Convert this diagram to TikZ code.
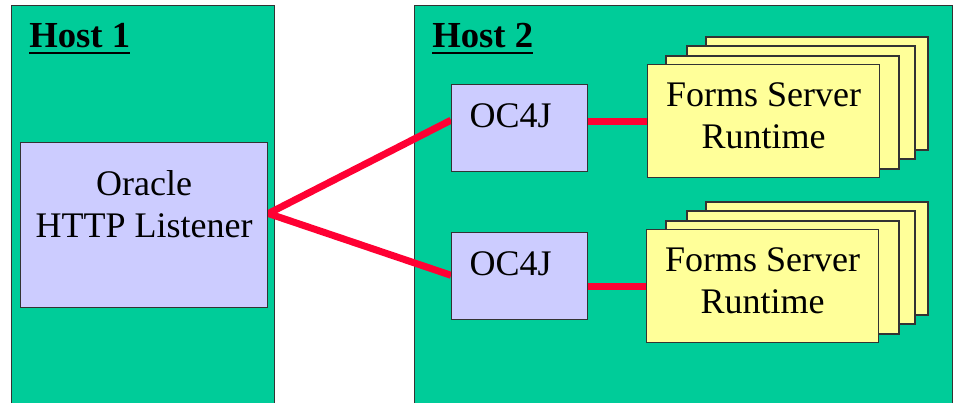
\documentclass[tikz,border=0pt]{standalone}
\usepackage{fontspec}
\setmainfont{Liberation Serif}
\usetikzlibrary{calc,backgrounds}

\definecolor{hostgreen}{HTML}{00CC99}
\definecolor{lilacfill}{HTML}{CCCCFF}
\definecolor{formsyellow}{HTML}{FFFF99}
\definecolor{linkred}{HTML}{FF0033}
\definecolor{edgegray}{HTML}{333333}

\newcommand{\ulhost}[1]{\setbox0\hbox{#1}\rlap{\rule[-4.5pt]{\wd0}{1.5pt}}\box0}

\begin{document}
\begin{tikzpicture}[x=0.75pt, y=-0.75pt, font=\fontsize{27}{31.5}\selectfont,
	host/.style={draw=edgegray, line width=1pt, fill=hostgreen, anchor=north west, inner sep=0pt},
	hosttitle/.style={anchor=base west, inner sep=0pt, font=\fontsize{27.5}{31}\selectfont\bfseries},
	lilac/.style={draw=edgegray, line width=1pt, fill=lilacfill, anchor=north west, inner sep=0pt},
	oc4j/.style={lilac, text width=75pt, inner xsep=13.5pt, align=left, text height=32.25pt, text depth=33pt},
	sheet/.style={draw=edgegray, line width=1pt, fill=formsyellow},
	forms/.style={sheet, anchor=north west, inner sep=0pt, align=center, minimum width=174pt, text height=63pt, text depth=21.75pt},
	link/.style={draw=linkred, line width=5.25pt}]
	\useasboundingbox (0,0) rectangle (954,403);

	\begin{scope}[on background layer]
	\node[host, minimum width=197.25pt, minimum height=310pt] (host1) at (11,5) {};
	\node[host, minimum width=403.5pt, minimum height=310pt] (host2) at (414,5) {};
	\end{scope}
	\node[hosttitle] (host1title) at (29,48) {\ulhost{Host 1}};
	\node[hosttitle] (host2title) at (432,48) {\ulhost{Host 2}};

	\node[lilac, align=center, minimum width=185.25pt, text height=71.25pt, text depth=52.5pt] (listener) at (20,142) {Oracle\\HTTP Listener};

	\node[oc4j] (oc4jA) at (451,84) {OC4J};
	\node[oc4j] (oc4jB) at (451,232) {OC4J};

	% stacked runtime sheets
	\foreach \top in {64,229}
		\foreach \dx/\dy/\w in {59/-27/222, 40/-18/228, 19/-8/233}
			\draw[sheet] (647+\dx,\top+\dy) rectangle ++(\w,113);
	\node[forms] (formsA) at (647,64) {Forms Server\\Runtime};
	\node[forms] (formsB) at (646,229) {Forms Server\\Runtime};

	\coordinate (fork) at ($(listener.north east)!0.43!(listener.south east)$);
	\begin{scope}[on background layer]
	\draw[link] ($(oc4jA.north west)!0.41!(oc4jA.south west)$) -- (fork) -- ($(oc4jB.north west)!0.49!(oc4jB.south west)$);
	\end{scope}
	\draw[link] (oc4jA.east |- formsA.west) -- (formsA.west);
	\draw[link] (oc4jB.east |- formsB.west) -- (formsB.west);
\end{tikzpicture}
\end{document}
